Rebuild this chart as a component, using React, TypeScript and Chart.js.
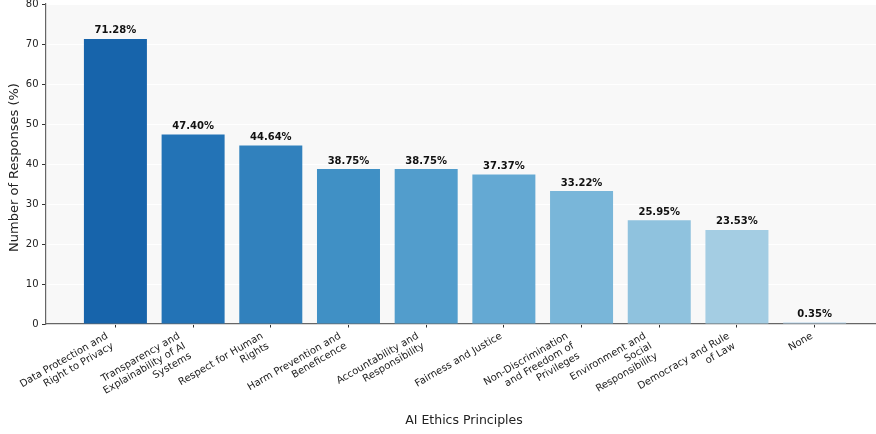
import React, { useEffect, useRef } from "react";
import { Chart, registerables } from "chart.js";

Chart.register(...registerables);

const categories: string[][] = [
  ["Data Protection and", "Right to Privacy"],
  ["Transparency and", "Explainability of AI", "Systems"],
  ["Respect for Human", "Rights"],
  ["Harm Prevention and", "Beneficence"],
  ["Accountability and", "Responsibility"],
  ["Fairness and Justice"],
  ["Non-Discrimination", "and Freedom of", "Privileges"],
  ["Environment and", "Social", "Responsibility"],
  ["Democracy and Rule", "of Law"],
  ["None"],
];

const percentages: number[] = [71.28, 47.4, 44.64, 38.75, 38.75, 37.37, 33.22, 25.95, 23.53, 0.35];

const barColors: string[] = [
  "#1764ab",
  "#2373b6",
  "#3181bd",
  "#4090c5",
  "#529dcc",
  "#64a9d3",
  "#79b6d9",
  "#8fc2de",
  "#a4cde3",
  "#b6d4e9",
];

const yTickValues: number[] = [0, 10, 20, 30, 40, 50, 60, 70, 80];

const xAxisTitle = "AI Ethics Principles";
const yAxisTitle = "Number of Responses (%)";

const FONT = "'DejaVu Sans', 'Liberation Sans', sans-serif";

const customPlugin = {
  id: "customDecor",
  beforeDraw(chart: any) {
    const { ctx, chartArea } = chart;
    ctx.save();
    ctx.fillStyle = "#f8f8f8";
    ctx.fillRect(chartArea.left, chartArea.top, chartArea.right - chartArea.left, chartArea.bottom - chartArea.top);
    ctx.restore();
  },
  afterDraw(chart: any) {
    const { ctx, chartArea } = chart;
    const meta = chart.getDatasetMeta(0);
    ctx.save();
    // value labels
    ctx.font = `bold 10px ${FONT}`;
    ctx.fillStyle = "#111111";
    ctx.textAlign = "center";
    ctx.textBaseline = "alphabetic";
    meta.data.forEach((bar: any, i: number) => {
      ctx.fillText(percentages[i].toFixed(2) + "%", bar.x, bar.y - 5.5);
    });

    // x tick labels (rotated, matplotlib-like anchoring)
    const xs = chart.scales.x;
    const theta = Math.PI / 6;
    const pitch = 11.5;
    ctx.font = `10px ${FONT}`;
    ctx.fillStyle = "#222222";
    ctx.textAlign = "right";
    categories.forEach((lines, i) => {
      const tickX = xs.getPixelForValue(i);
      const n = lines.length;
      const H = (n - 1) * pitch + 10;
      ctx.save();
      ctx.translate(tickX - H * Math.sin(theta), chartArea.bottom + 7);
      ctx.rotate(-theta);
      lines.forEach((line, j) => {
        ctx.fillText(line, 0, 7.6 + j * pitch);
      });
      ctx.restore();
    });

    // axis titles
    ctx.font = `12.5px ${FONT}`;
    ctx.fillStyle = "#222222";
    ctx.textAlign = "center";
    ctx.textBaseline = "alphabetic";
    ctx.fillText(xAxisTitle, 464, 424);

    ctx.save();
    ctx.font = `13px ${FONT}`;
    ctx.translate(14.5, 167.5);
    ctx.rotate(-Math.PI / 2);
    ctx.textBaseline = "middle";
    ctx.fillText(yAxisTitle, 0, 0);
    ctx.restore();

    ctx.restore();
  },
};

export default function App() {
  const canvasRef = useRef<HTMLCanvasElement | null>(null);

  useEffect(() => {
    if (!canvasRef.current) return;
    const chart = new Chart(canvasRef.current, {
      type: "bar",
      data: {
        datasets: [
          {
            data: percentages.map((v, i) => ({ x: i, y: v })),
            backgroundColor: barColors,
            borderWidth: 0,
            barPercentage: 0.811,
            categoryPercentage: 1,
          },
        ],
      },
      options: {
        responsive: false,
        animation: false,
        devicePixelRatio: 1,
        layout: { padding: { top: 4, right: 0, bottom: 0, left: 0 } },
        plugins: {
          legend: { display: false },
          tooltip: { enabled: false },
        },
        scales: {
          x: {
            type: "linear",
            offset: false,
            min: -0.9,
            max: 9.79,
            afterBuildTicks: (scale: any) => {
              scale.ticks = categories.map((_, i) => ({ value: i }));
            },
            afterFit: (scale: any) => {
              scale.height = 110;
              scale.paddingLeft = 0;
              scale.paddingRight = 0;
            },
            ticks: { display: false },
            grid: {
              offset: false,
              drawOnChartArea: false,
              drawTicks: true,
              tickLength: 3.5,
              tickColor: "#333333",
              tickWidth: 1,
            },
            border: { display: true, color: "#666666", width: 1.2 },
          },
          y: {
            type: "linear",
            min: 0,
            max: 80,
            afterBuildTicks: (scale: any) => {
              scale.ticks = yTickValues.map((v) => ({ value: v }));
            },
            afterFit: (scale: any) => {
              scale.width = 45.5;
              scale.paddingTop = 0;
              scale.paddingBottom = 0;
            },
            ticks: {
              font: { family: FONT, size: 10 },
              color: "#222222",
              padding: 3.5,
            },
            grid: {
              color: "rgba(255,255,255,0.9)",
              lineWidth: 1,
              drawTicks: true,
              tickLength: 3.5,
              tickColor: "#333333",
              tickWidth: 1,
            },
            border: { display: true, color: "#666666", width: 1.2 },
          },
        },
      },
      plugins: [customPlugin],
    });
    return () => chart.destroy();
  }, []);

  return (
    <div style={{ position: "fixed", left: 0, top: 0, width: 876, height: 434, background: "#ffffff" }}>
      <canvas ref={canvasRef} width={876} height={434} style={{ display: "block" }} />
    </div>
  );
}
